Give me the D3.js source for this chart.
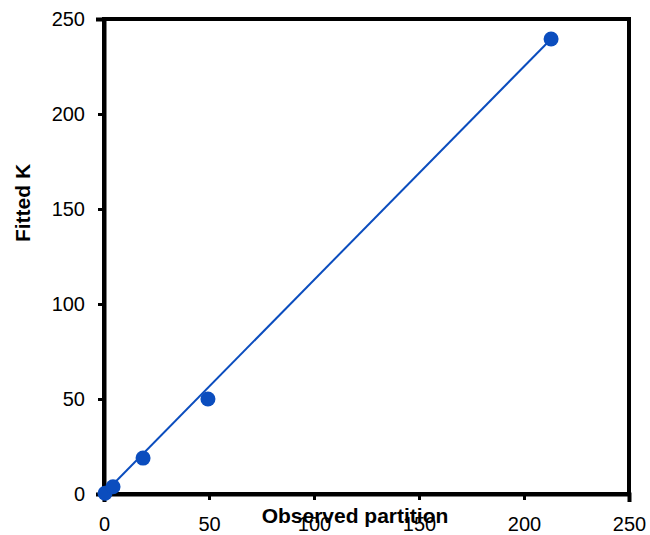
<!DOCTYPE html>
<html>
<head>
<meta charset="utf-8">
<script src="https://cdn.jsdelivr.net/npm/d3@7"></script>
<style>
  body { margin: 0; background: #fff; }
  svg { display: block; font-family: "Liberation Sans", Arial, sans-serif; }
</style>
</head>
<body>
<div id="chart"></div>
<script>
// observed partition vs fitted K
var observed = [0.5, 4.3, 18.6, 49.5, 212.9];
var fitted = [0.4, 3.8, 18.9, 50.0, 239.5];
// fitted line end points
var lineX = [0, 212.9];
var lineY = [0.3, 239.5];
var ticks = [0, 50, 100, 150, 200, 250];

var width = 650, height = 535;
var margin = { left: 104, right: 21, top: 19, bottom: 41 };
var blue = "#0b4dbe";

var svg = d3.select("#chart").append("svg")
  .attr("width", width)
  .attr("height", height);

var x = d3.scaleLinear().domain([0, 250]).range([margin.left, width - margin.right]);
var y = d3.scaleLinear().domain([0, 250]).range([height - margin.bottom, margin.top]);

// frame (top + right)
svg.append("rect")
  .attr("x", x(0))
  .attr("y", y(250))
  .attr("width", x(250) - x(0))
  .attr("height", y(0) - y(250))
  .attr("fill", "none")
  .attr("stroke", "#000")
  .attr("stroke-width", 4);

var xAxis = svg.append("g")
  .attr("transform", "translate(0," + y(0) + ")")
  .call(d3.axisBottom(x).tickValues(ticks).tickSize(6).tickPadding(17));
var yAxis = svg.append("g")
  .attr("transform", "translate(" + x(0) + ",0)")
  .call(d3.axisLeft(y).tickValues(ticks).tickSize(6).tickPadding(13));

[xAxis, yAxis].forEach(function (g) {
  g.select(".domain").attr("stroke-width", 4).attr("stroke-linecap", "square");
  g.selectAll(".tick line").attr("stroke-width", 3);
  g.selectAll(".tick text")
    .attr("font-size", 20)
    .attr("font-family", "Liberation Sans, Arial, sans-serif")
    .attr("fill", "#000");
});

// trend line
var lineData = lineX.map(function (d, i) { return [d, lineY[i]]; });
svg.append("path")
  .datum(lineData)
  .attr("d", d3.line().x(function (d) { return x(d[0]); }).y(function (d) { return y(d[1]); }))
  .attr("stroke", blue)
  .attr("stroke-width", 2)
  .attr("fill", "none");

// points
svg.selectAll("circle.pt")
  .data(observed)
  .enter()
  .append("circle")
  .attr("class", "pt")
  .attr("cx", function (d) { return x(d); })
  .attr("cy", function (d, i) { return y(fitted[i]); })
  .attr("r", 7.5)
  .attr("fill", blue);

// axis titles
svg.append("text")
  .attr("x", 355)
  .attr("y", 523)
  .attr("text-anchor", "middle")
  .attr("font-size", 21)
  .attr("font-weight", "bold")
  .text("Observed partition");

svg.append("text")
  .attr("transform", "translate(30,203) rotate(-90)")
  .attr("text-anchor", "middle")
  .attr("font-size", 21)
  .attr("font-weight", "bold")
  .text("Fitted K");
</script>
</body>
</html>
